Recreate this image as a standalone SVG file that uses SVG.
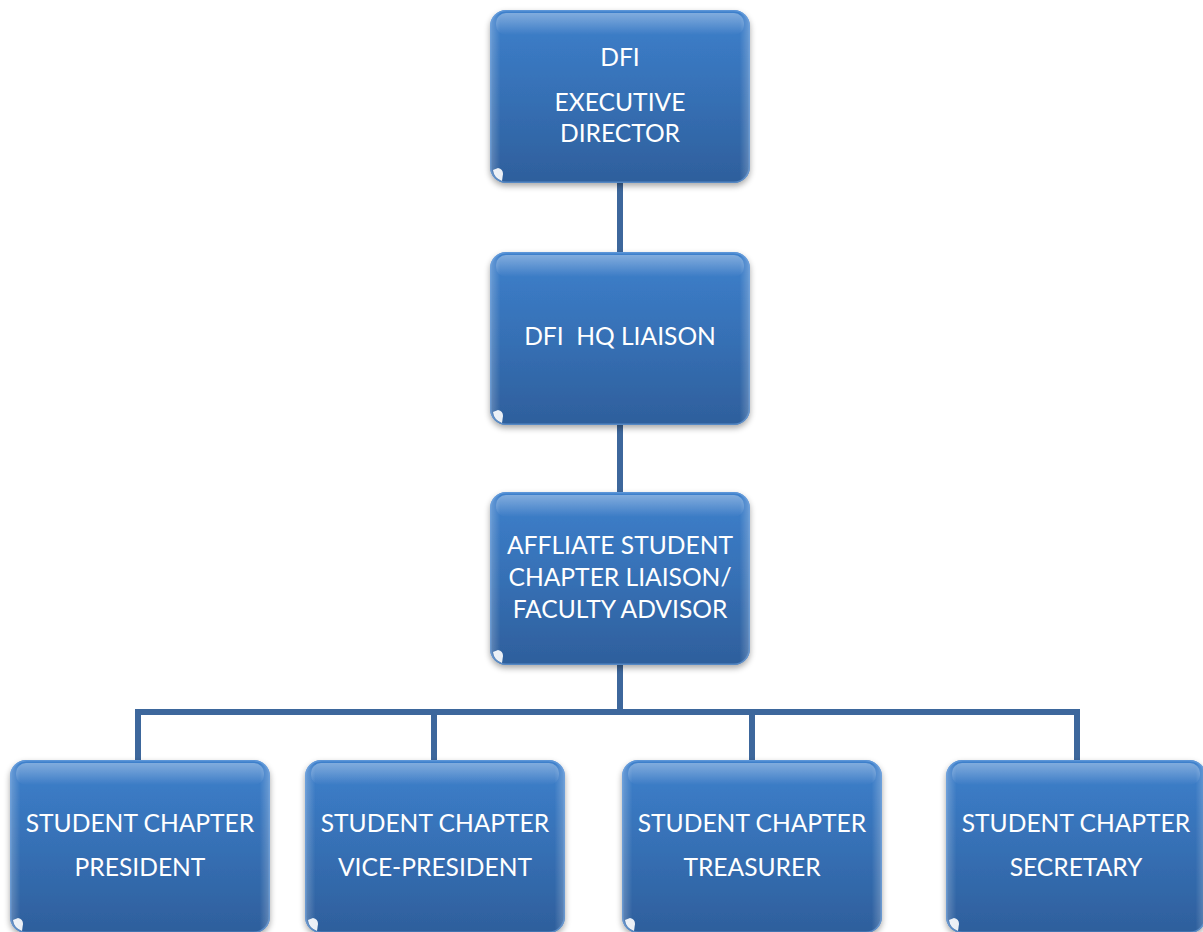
<svg xmlns="http://www.w3.org/2000/svg" width="1203" height="932" viewBox="0 0 1203 932">
<defs>
<linearGradient id="fill" x1="0" y1="0" x2="0" y2="1">
<stop offset="0" stop-color="#3d80cc"/>
<stop offset="0.5" stop-color="#3670b5"/>
<stop offset="1" stop-color="#2e5f9c"/>
</linearGradient>
<linearGradient id="hl" x1="0" y1="0" x2="0" y2="1">
<stop offset="0" stop-color="#ffffff" stop-opacity="0.35"/>
<stop offset="1" stop-color="#ffffff" stop-opacity="0"/>
</linearGradient>
<linearGradient id="side" x1="0" y1="0" x2="1" y2="0">
<stop offset="0" stop-color="#ffffff" stop-opacity="0.25"/>
<stop offset="0.04" stop-color="#ffffff" stop-opacity="0"/>
<stop offset="0.96" stop-color="#ffffff" stop-opacity="0"/>
<stop offset="1" stop-color="#ffffff" stop-opacity="0.25"/>
</linearGradient>
<filter id="sh" x="-10%" y="-10%" width="120%" height="130%">
<feGaussianBlur in="SourceAlpha" stdDeviation="3"/>
<feOffset dy="3"/>
<feComponentTransfer><feFuncA type="linear" slope="0.35"/></feComponentTransfer>
<feMerge><feMergeNode/><feMergeNode in="SourceGraphic"/></feMerge>
</filter>
<g id="box">
<rect x="0" y="0" width="260" height="173" rx="16" fill="url(#fill)" filter="url(#sh)"/>
<rect x="0" y="0" width="260" height="173" rx="16" fill="url(#side)"/>
<rect x="6" y="3" width="248" height="22" rx="10" fill="url(#hl)"/>
<rect x="0.75" y="0.75" width="258.5" height="171.5" rx="15.5" fill="none" stroke="#6fa3df" stroke-width="1.5" stroke-opacity="0.6"/>
<path d="M3,160 Q4,168 12,171 L13,164 Q13,159 8,158 Z" fill="#ffffff" opacity="0.9"/>
</g>
</defs>
<style>
.t{font-family:Lato,"Liberation Sans",sans-serif;font-size:24.6px;fill:#ffffff;text-anchor:middle}
.c{stroke:#3d679c;stroke-width:6;fill:none}
</style>
<rect width="1203" height="932" fill="#ffffff"/>
<g id="connectors">
<line class="c" x1="620" y1="183" x2="620" y2="252"/>
<line class="c" x1="620" y1="424" x2="620" y2="492"/>
<line class="c" x1="620" y1="664" x2="620" y2="712"/>
<line class="c" x1="135" y1="712" x2="1080" y2="712"/>
<line class="c" x1="138" y1="712" x2="138" y2="760"/>
<line class="c" x1="434" y1="712" x2="434" y2="760"/>
<line class="c" x1="752" y1="712" x2="752" y2="760"/>
<line class="c" x1="1077" y1="712" x2="1077" y2="760"/>
</g>
<g id="n1"><use href="#box" x="490" y="10"/>
<text class="t" x="620" y="66">DFI</text>
<text class="t" x="620" y="111">EXECUTIVE</text>
<text class="t" x="620" y="142">DIRECTOR</text></g>
<g id="n2"><use href="#box" x="490" y="252"/>
<text class="t" x="620" y="345" xml:space="preserve">DFI  HQ LIAISON</text></g>
<g id="n3"><use href="#box" x="490" y="492"/>
<text class="t" x="620" y="554">AFFLIATE STUDENT</text>
<text class="t" x="620" y="586">CHAPTER LIAISON/</text>
<text class="t" x="620" y="618">FACULTY ADVISOR</text></g>
<g id="n4"><use href="#box" x="10" y="760"/>
<text class="t" x="140" y="832">STUDENT CHAPTER</text>
<text class="t" x="140" y="876">PRESIDENT</text></g>
<g id="n5"><use href="#box" x="305" y="760"/>
<text class="t" x="435" y="832">STUDENT CHAPTER</text>
<text class="t" x="435" y="876">VICE-PRESIDENT</text></g>
<g id="n6"><use href="#box" x="622" y="760"/>
<text class="t" x="752" y="832">STUDENT CHAPTER</text>
<text class="t" x="752" y="876">TREASURER</text></g>
<g id="n7"><use href="#box" x="946" y="760"/>
<text class="t" x="1076" y="832">STUDENT CHAPTER</text>
<text class="t" x="1076" y="876">SECRETARY</text></g>
</svg>
